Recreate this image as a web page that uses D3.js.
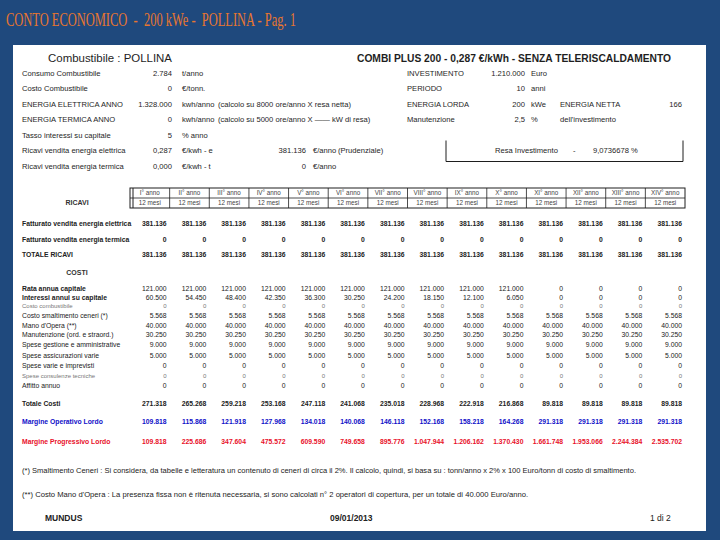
<!DOCTYPE html>
<html><head><meta charset="utf-8">
<script src="https://cdn.jsdelivr.net/npm/d3@7"></script>
<style>body{margin:0;background:#1f497d;} svg{display:block;font-family:"Liberation Sans",Arial,sans-serif;}</style>
</head><body><svg id="c" width="720" height="540"></svg>
<script>
// ---------- DATA ----------
const pageTitle = "CONTO ECONOMICO  -  200 kWe -  POLLINA - Pag. 1";
const leftTitle = "Combustibile : POLLINA";
const rightTitle = "COMBI PLUS 200 - 0,287 €/kWh - SENZA TELERISCALDAMENTO";

const paramLabels = ["Consumo Combustibile","Costo Combustibile","ENERGIA ELETTRICA ANNO","ENERGIA TERMICA ANNO","Tasso interessi su capitale","Ricavi vendita energia elettrica","Ricavi vendita energia termica"];
const paramValues = ["2.784","0","1.328.000","0","5","0,287","0,000"];
const paramUnits = ["t/anno","€/tonn.","kwh/anno","kwh/anno","% anno","€/kwh - e","€/kwh - t"];
const paramNotes = ["","","(calcolo su 8000 ore/anno X resa netta)","(calcolo su 5000 ore/anno X —— kW di resa)","","",""];
const ricaviAnnuiValues = ["381.136","0"];
const ricaviAnnuiUnit = "€/anno";
const ricaviAnnuiNote = "(Prudenziale)";

const investLabels = ["INVESTIMENTO","PERIODO","ENERGIA LORDA","Manutenzione"];
const investValues = ["1.210.000","10","200","2,5"];
const investUnits = ["Euro","anni","kWe","%"];
const investExtraLabels = ["","","ENERGIA NETTA","dell'investimento"];
const investExtraValues = ["","","166",""];
const resaLabel = "Resa Investimento";
const resaValue = "9,0736678 %";

const years = ["I° anno","II° anno","III° anno","IV° anno","V° anno","VI° anno","VII° anno","VIII° anno","IX° anno","X° anno","XI° anno","XII° anno","XIII° anno","XIV° anno"];
const periods = ["12 mesi","12 mesi","12 mesi","12 mesi","12 mesi","12 mesi","12 mesi","12 mesi","12 mesi","12 mesi","12 mesi","12 mesi","12 mesi","12 mesi"];

const fatturatoElettrica = [381136,381136,381136,381136,381136,381136,381136,381136,381136,381136,381136,381136,381136,381136];
const fatturatoTermica   = [0,0,0,0,0,0,0,0,0,0,0,0,0,0];
const totaleRicavi       = [381136,381136,381136,381136,381136,381136,381136,381136,381136,381136,381136,381136,381136,381136];
const rataCapitale       = [121000,121000,121000,121000,121000,121000,121000,121000,121000,121000,0,0,0,0];
const interessiCapitale  = [60500,54450,48400,42350,36300,30250,24200,18150,12100,6050,0,0,0,0];
const costoCombustibile  = [0,0,0,0,0,0,0,0,0,0,0,0,0,0];
const smaltimentoCeneri  = [5568,5568,5568,5568,5568,5568,5568,5568,5568,5568,5568,5568,5568,5568];
const manoOpera          = [40000,40000,40000,40000,40000,40000,40000,40000,40000,40000,40000,40000,40000,40000];
const manutenzione       = [30250,30250,30250,30250,30250,30250,30250,30250,30250,30250,30250,30250,30250,30250];
const speseGestione      = [9000,9000,9000,9000,9000,9000,9000,9000,9000,9000,9000,9000,9000,9000];
const speseAssicurazioni = [5000,5000,5000,5000,5000,5000,5000,5000,5000,5000,5000,5000,5000,5000];
const speseVarie         = [0,0,0,0,0,0,0,0,0,0,0,0,0,0];
const speseConsulenze    = [0,0,0,0,0,0,0,0,0,0,0,0,0,0];
const affittoAnnuo       = [0,0,0,0,0,0,0,0,0,0,0,0,0,0];
const totaleCosti        = [271318,265268,259218,253168,247118,241068,235018,228968,222918,216868,89818,89818,89818,89818];
const margineOperativo   = [109818,115868,121918,127968,134018,140068,146118,152168,158218,164268,291318,291318,291318,291318];
const margineProgressivo = [109818,225686,347604,475572,609590,749658,895776,1047944,1206162,1370430,1661748,1953066,2244384,2535702];

const footnote1 = "(*) Smaltimento Ceneri : Si considera, da tabelle e letteratura un contenuto di ceneri di circa il 2%. Il calcolo, quindi, si basa su : tonn/anno x 2% x 100 Euro/tonn di costo di smaltimento.";
const footnote2 = "(**) Costo Mano d'Opera : La presenza fissa non è ritenuta necessaria, si sono calcolati n° 2 operatori di copertura, per un totale di 40.000 Euro/anno.";
const footerLeft = "MUNDUS", footerDate = "09/01/2013", footerPage = "1 di 2";

// ---------- DRAW ----------
const svg = d3.select("#c");
const fmt = d3.formatLocale({decimal:",",thousands:".",grouping:[3],currency:["","€"]}).format(",.0f");

svg.append("rect").attr("width",720).attr("height",540).attr("fill","#1f497d");
svg.append("text").text(pageTitle).attr("x",6).attr("y",26)
  .attr("font-family","'Liberation Serif','DejaVu Serif',serif").attr("font-size",19)
  .attr("fill","#e8762f").attr("textLength",290).attr("lengthAdjust","spacingAndGlyphs")
  .style("white-space","pre");

svg.append("rect").attr("x",13).attr("y",45).attr("width",693).attr("height",486).attr("fill","#ffffff");

const ink = "#1e1e1e";
svg.append("text").text(leftTitle).attr("x",48).attr("y",62).attr("font-size",11.5).attr("fill",ink)
  .attr("textLength",124).attr("lengthAdjust","spacingAndGlyphs");
svg.append("text").text(rightTitle).attr("x",357).attr("y",62).attr("font-size",11.5).attr("font-weight","bold")
  .attr("fill",ink).attr("textLength",314).attr("lengthAdjust","spacingAndGlyphs");

// Parameter block
const pY = d3.scalePoint().domain(paramLabels).range([73,166]);
const pg = svg.append("g").attr("font-size",7.6).attr("fill",ink);
paramLabels.forEach((l,i)=>{
  const y = pY(l);
  pg.append("text").text(l).attr("x",22).attr("y",y).attr("dy","0.35em");
  pg.append("text").text(paramValues[i]).attr("x",172).attr("y",y).attr("dy","0.35em").attr("text-anchor","end");
  pg.append("text").text(paramUnits[i]).attr("x",182).attr("y",y).attr("dy","0.35em");
  if (paramNotes[i]) pg.append("text").text(paramNotes[i]).attr("x",218).attr("y",y).attr("dy","0.35em");
});
ricaviAnnuiValues.forEach((v,i)=>{
  const y = pY(paramLabels[5+i]);
  pg.append("text").text(v).attr("x",306).attr("y",y).attr("dy","0.35em").attr("text-anchor","end");
  pg.append("text").text(ricaviAnnuiUnit).attr("x",313).attr("y",y).attr("dy","0.35em");
  if (i===0) pg.append("text").text(ricaviAnnuiNote).attr("x",338).attr("y",y).attr("dy","0.35em");
});
investLabels.forEach((l,i)=>{
  const y = pY(paramLabels[i]);
  pg.append("text").text(l).attr("x",407).attr("y",y).attr("dy","0.35em");
  pg.append("text").text(investValues[i]).attr("x",525).attr("y",y).attr("dy","0.35em").attr("text-anchor","end");
  pg.append("text").text(investUnits[i]).attr("x",531).attr("y",y).attr("dy","0.35em");
  if (investExtraLabels[i]) pg.append("text").text(investExtraLabels[i]).attr("x",560).attr("y",y).attr("dy","0.35em");
  if (investExtraValues[i]) pg.append("text").text(investExtraValues[i]).attr("x",682).attr("y",y).attr("dy","0.35em").attr("text-anchor","end");
});
// Resa box
const yr = pY(paramLabels[5]);
pg.append("path").attr("d",`M446,${yr-10}V${yr+11}H683V${yr-10}`).attr("fill","none").attr("stroke",ink).attr("stroke-width",1);
pg.append("text").text(resaLabel).attr("x",495).attr("y",yr).attr("dy","0.35em");
pg.append("text").text("-").attr("x",573).attr("y",yr).attr("dy","0.35em");
pg.append("text").text(resaValue).attr("x",593).attr("y",yr).attr("dy","0.35em");

// Table
const x = d3.scaleBand().domain(years).range([130,685]);
const hg = svg.append("g");
const hTop=188, hMid=198, hBot=208;
hg.append("rect").attr("x",x.range()[0]).attr("y",hTop).attr("width",x.range()[1]-x.range()[0]).attr("height",hBot-hTop)
  .attr("fill","none").attr("stroke",ink).attr("stroke-width",1);
hg.append("line").attr("x1",x.range()[0]).attr("x2",x.range()[1]).attr("y1",hMid).attr("y2",hMid).attr("stroke",ink).attr("stroke-width",0.8);
hg.append("line").attr("x1",x.range()[0]+3).attr("x2",x.range()[0]+3).attr("y1",hTop).attr("y2",hBot).attr("stroke",ink).attr("stroke-width",1);
years.forEach((yv,i)=>{
  if (i>0) hg.append("line").attr("x1",x(yv)).attr("x2",x(yv)).attr("y1",hTop).attr("y2",hBot).attr("stroke",ink).attr("stroke-width",0.8);
  hg.append("text").text(yv).attr("x",x(yv)+x.bandwidth()/2).attr("y",(hTop+hMid)/2).attr("dy","0.35em")
    .attr("text-anchor","middle").attr("font-size",6.3).attr("fill","#444");
  hg.append("text").text(periods[i]).attr("x",x(yv)+x.bandwidth()/2).attr("y",(hMid+hBot)/2).attr("dy","0.35em")
    .attr("text-anchor","middle").attr("font-size",6.3).attr("fill","#444");
});
hg.append("text").text("RICAVI").attr("x",77).attr("y",(hMid+hBot)/2).attr("dy","0.35em").attr("text-anchor","middle")
  .attr("font-size",7).attr("font-weight","bold").attr("fill","#333");
hg.append("text").text("COSTI").attr("x",77).attr("y",273).attr("dy","0.35em").attr("text-anchor","middle")
  .attr("font-size",7).attr("font-weight","bold").attr("fill","#333");

const rows = [
  {label:"Fatturato vendita energia elettrica", vals:fatturatoElettrica, y:224, bold:true, boldVals:true},
  {label:"Fatturato vendita energia termica", vals:fatturatoTermica, y:240, bold:true, boldVals:true},
  {label:"TOTALE RICAVI", vals:totaleRicavi, y:255, bold:true, boldVals:true},
  {label:"Rata annua capitale", vals:rataCapitale, y:289, bold:true},
  {label:"Interessi annui su capitale", vals:interessiCapitale, y:298, bold:true},
  {label:"Costo combustibile", vals:costoCombustibile, y:306, faint:true},
  {label:"Costo smaltimento ceneri (*)", vals:smaltimentoCeneri, y:316},
  {label:"Mano d'Opera (**)", vals:manoOpera, y:325.5},
  {label:"Manutenzione (ord. e straord.)", vals:manutenzione, y:335},
  {label:"Spese gestione e amministrative", vals:speseGestione, y:344.5},
  {label:"Spese assicurazioni varie", vals:speseAssicurazioni, y:356},
  {label:"Spese varie e imprevisti", vals:speseVarie, y:366},
  {label:"Spese consulenze tecniche", vals:speseConsulenze, y:376, faint:true},
  {label:"Affitto annuo", vals:affittoAnnuo, y:386},
  {label:"Totale Costi", vals:totaleCosti, y:404, bold:true, boldVals:true},
  {label:"Margine Operativo Lordo", vals:margineOperativo, y:422, bold:true, boldVals:true, color:"#1010c8"},
  {label:"Margine Progressivo Lordo", vals:margineProgressivo, y:442, bold:true, boldVals:true, color:"#e8102a"}
];
const tg = svg.append("g");
rows.forEach(r=>{
  const col = r.color || (r.faint ? "#777" : "#222");
  const g = tg.append("g").attr("fill",col).attr("font-size",r.faint?6:6.8);
  g.append("text").text(r.label).attr("x",22).attr("y",r.y).attr("dy","0.35em").attr("font-weight",r.bold?"bold":"normal");
  g.selectAll("text.v").data(r.vals).join("text").attr("class","v").attr("font-weight",r.boldVals?"bold":"normal")
    .text(d=>fmt(d)).attr("x",(d,i)=>x(years[i])+x.bandwidth()-3).attr("y",r.y).attr("dy","0.35em").attr("text-anchor","end");
});

// Footnotes
svg.append("text").text(footnote1).attr("x",22).attr("y",470).attr("dy","0.35em").attr("font-size",7.4).attr("fill","#222")
  .attr("textLength",614).attr("lengthAdjust","spacingAndGlyphs");
svg.append("text").text(footnote2).attr("x",22).attr("y",494).attr("dy","0.35em").attr("font-size",7.4).attr("fill","#222")
  .attr("textLength",506).attr("lengthAdjust","spacingAndGlyphs");
svg.append("text").text(footerLeft).attr("x",45).attr("y",518).attr("dy","0.35em").attr("font-size",8.5).attr("font-weight","bold").attr("fill","#222");
svg.append("text").text(footerDate).attr("x",330).attr("y",518).attr("dy","0.35em").attr("font-size",8.5).attr("font-weight","bold").attr("fill","#222");
svg.append("text").text(footerPage).attr("x",650).attr("y",518).attr("dy","0.35em").attr("font-size",8.5).attr("fill","#222");
</script></body></html>
